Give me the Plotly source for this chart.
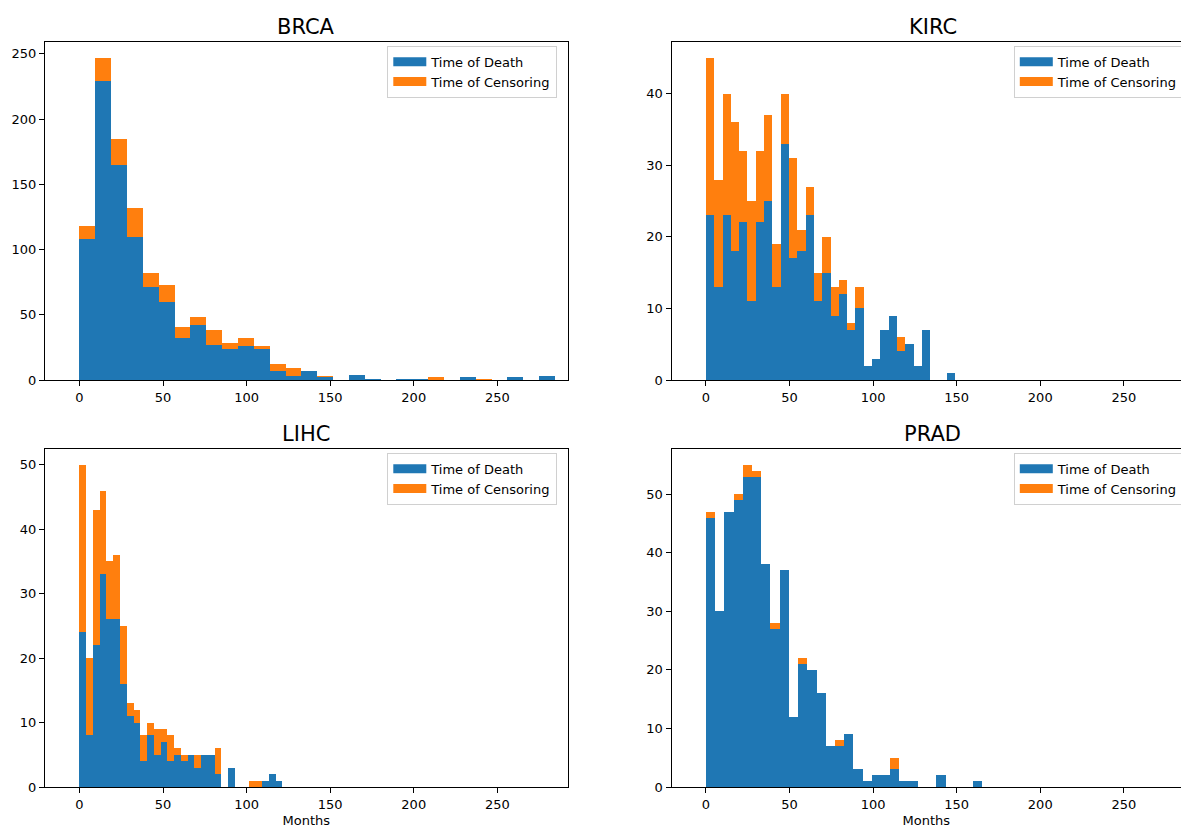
import numpy as np
import plotly.graph_objects as go

W, H = 1181, 828

# ---------------- data (30-bin stacked histograms, counts per bin) ----------------
panel_names = ["BRCA", "KIRC", "LIHC", "PRAD"]
series_names = ["Time of Death", "Time of Censoring"]
x_ticks = [0, 50, 100, 150, 200, 250]

# upper edge (months) of the last bin for each cohort; bins start at 0
brca_max = 284.5
kirc_max = 149.1
lihc_max = 121.4
prad_max = 165.4

brca_death = [108, 229, 165, 110, 71, 60, 32, 42, 27, 24, 26, 24, 7, 3, 7,
              2, 0, 4, 1, 0, 1, 1, 0, 0, 2, 0, 0, 2, 0, 3]
brca_cens = [10, 18, 20, 22, 11, 13, 9, 6, 11, 4, 6, 2, 5, 6, 0,
             1, 0, 0, 0, 0, 0, 0, 2, 0, 0, 1, 0, 0, 0, 0]

kirc_death = [23, 13, 23, 18, 22, 11, 22, 25, 13, 33, 17, 18, 23, 11, 15,
              9, 12, 7, 10, 2, 3, 7, 9, 4, 5, 2, 7, 0, 0, 1]
kirc_cens = [22, 15, 17, 18, 10, 14, 10, 12, 6, 7, 14, 3, 4, 4, 5,
             4, 2, 1, 3, 0, 0, 0, 0, 2, 0, 0, 0, 0, 0, 0]

lihc_death = [24, 8, 22, 33, 26, 26, 16, 11, 10, 4, 8, 5, 7, 4, 5,
              4, 5, 3, 5, 5, 2, 0, 3, 0, 0, 0, 0, 1, 2, 1]
lihc_cens = [26, 12, 21, 13, 9, 10, 9, 2, 2, 4, 2, 4, 2, 4, 1,
             1, 0, 2, 0, 0, 4, 0, 0, 0, 0, 1, 1, 0, 0, 0]

prad_death = [46, 30, 47, 49, 53, 53, 38, 27, 37, 12, 21, 20, 16, 7, 7,
              9, 3, 1, 2, 2, 3, 1, 1, 0, 0, 2, 0, 0, 0, 1]
prad_cens = [1, 0, 0, 1, 2, 1, 0, 1, 0, 0, 1, 0, 0, 0, 1,
             0, 0, 0, 0, 0, 2, 0, 0, 0, 0, 0, 0, 0, 0, 0]

y_dticks = [50, 10, 10, 10]

# ---------------- styling / layout constants ----------------
C_DEATH = "#1f77b4"
C_CENS = "#ff7f0e"
FONT = "DejaVu Sans"
TXT = "#000000"

X_MIN = -20.6
PX_PER_UNIT = 522.7 / 312.7
AX_W = 522.7
left_x0 = 45.0
right_x0 = 671.5
top_y0, top_y1 = 41.7, 380.0      # pixel top / bottom
bot_y0, bot_y1 = 448.7, 787.0

panels = [
    (brca_death, brca_cens, brca_max, left_x0, top_y0, top_y1),
    (kirc_death, kirc_cens, kirc_max, right_x0, top_y0, top_y1),
    (lihc_death, lihc_cens, lihc_max, left_x0, bot_y0, bot_y1),
    (prad_death, prad_cens, prad_max, right_x0, bot_y0, bot_y1),
]

fig = go.Figure()
layout = dict(
    width=W, height=H,
    margin=dict(l=0, r=0, t=0, b=0, autoexpand=False),
    paper_bgcolor="white", plot_bgcolor="white",
    barmode="stack", bargap=0, bargroupgap=0,
    showlegend=True,
    font=dict(family=FONT, size=13, color=TXT),
)
annotations = []

for i, (death, cens, vmax, px0, py0, py1) in enumerate(panels):
    n = i + 1
    xa = "x" if n == 1 else f"x{n}"
    ya = "y" if n == 1 else f"y{n}"
    lg = "legend" if n == 1 else f"legend{n}"

    edges = np.linspace(0, vmax, len(death) + 1)
    centers = (edges[:-1] + edges[1:]) / 2
    bw = edges[1] - edges[0]
    death = np.array(death)
    cens = np.array(cens)
    total = death + cens

    for vals, col, name in [(death, C_DEATH, series_names[0]), (cens, C_CENS, series_names[1])]:
        fig.add_trace(go.Bar(
            x=centers, y=vals, width=bw, name=name,
            marker=dict(color=col, line=dict(width=0)),
            xaxis=xa, yaxis=ya, showlegend=False, hoverinfo="skip",
        ))
        # legend entry drawn as a wide patch
        fig.add_trace(go.Scatter(
            x=[None], y=[None], mode="lines", name=name,
            line=dict(color=col, width=9),
            xaxis=xa, yaxis=ya, legend=lg, showlegend=True, hoverinfo="skip",
        ))

    px1 = min(px0 + AX_W, W)
    x_max = X_MIN + (px1 - px0) / PX_PER_UNIT
    is_right = px0 > W / 2
    key_x = "xaxis" if n == 1 else f"xaxis{n}"
    key_y = "yaxis" if n == 1 else f"yaxis{n}"
    xaxis = dict(
        domain=[px0 / W, px1 / W], anchor=ya, range=[X_MIN, x_max],
        tickmode="array", tickvals=x_ticks, ticktext=[str(t) for t in x_ticks],
        ticks="outside", ticklen=5, tickwidth=1, tickcolor="#000",
        showline=True, linecolor="#000", linewidth=1, mirror=True,
        showgrid=False, zeroline=False,
        tickfont=dict(family=FONT, size=13, color=TXT),
    )
    if n >= 3:
        xaxis["title"] = dict(text="Months", font=dict(family=FONT, size=13, color=TXT), standoff=5)
    yaxis = dict(
        domain=[1 - py1 / H, 1 - py0 / H], anchor=xa,
        range=[0, 1.05 * total.max()], tick0=0, dtick=y_dticks[i],
        ticks="outside", ticklen=5, tickwidth=1, tickcolor="#000",
        showline=True, linecolor="#000", linewidth=1, mirror=not is_right,
        showgrid=False, zeroline=False,
        tickfont=dict(family=FONT, size=13, color=TXT),
    )
    layout[key_x] = xaxis
    layout[key_y] = yaxis

    # panel title centred over full axes width
    annotations.append(dict(
        text=panel_names[i], x=(px0 + AX_W / 2) / W, y=1 - (py0 - 15) / H,
        xref="paper", yref="paper", xanchor="center", yanchor="middle",
        showarrow=False, font=dict(family=FONT, size=21, color=TXT),
    ))

    # legend at the upper right inside the axes
    lx = px0 + AX_W - 180.4
    layout[lg] = dict(
        x=lx / W, y=1 - (py0 + 4.0) / H, xanchor="left", yanchor="top",
        xref="paper", yref="paper", traceorder="normal",
        bgcolor="rgba(255,255,255,0.8)", bordercolor="#d0d0d0", borderwidth=1,
        font=dict(family=FONT, size=13, color=TXT), itemwidth=33,
        tracegroupgap=0,
    )

layout["annotations"] = annotations
fig.update_layout(**layout)
fig.write_html(
    "out.html",
    config={"displayModeBar": False, "staticPlot": True},
    post_script="document.body.style.margin='0';document.body.style.overflow='hidden';",
)
